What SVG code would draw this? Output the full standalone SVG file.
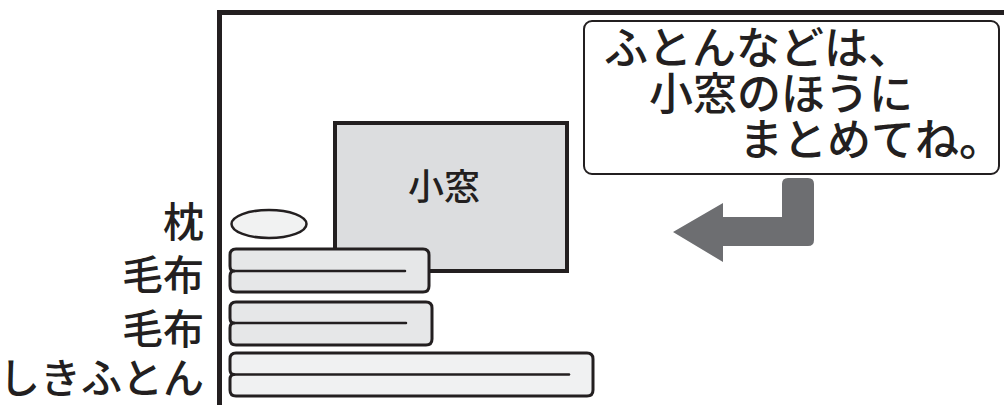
<svg xmlns="http://www.w3.org/2000/svg" width="1004" height="405" viewBox="0 0 1004 405">
<style>
.t{font-family:"Noto Sans CJK JP","Noto Sans",sans-serif;fill:#231f20;font-weight:500}
.lbl{font-size:41px;text-anchor:end}
.say{font-size:44px}
.bl{stroke:#231f20;stroke-width:3;stroke-linejoin:round}
.ln{stroke:#231f20;stroke-width:2.5;fill:none;stroke-linecap:round}
</style>
<rect width="1004" height="405" fill="#ffffff"/>
<g id="frame">
<path d="M219.5 405 V12.5 H1004" fill="none" stroke="#231f20" stroke-width="5" stroke-linejoin="miter"/>
</g>
<g id="window">
<rect x="335" y="123" width="232" height="148" fill="#dcdddf" stroke="#231f20" stroke-width="4"/>
<text class="t" x="444" y="200" font-size="36" text-anchor="middle">小窓</text>
</g>
<g id="pillow">
<ellipse cx="269" cy="224" rx="37.5" ry="14" fill="#f1f2f2" stroke="#231f20" stroke-width="2.5"/>
</g>
<g id="blanket1">
<path class="bl" fill="#e6e7e8" d="M236 249 H423 Q429 249 429 255 V286 Q429 292 423 292 H236 Q230 292 230 286 V276 Q230 271 234 271 Q230 271 230 266 V255 Q230 249 236 249 Z"/>
<path class="ln" d="M234 271 H405"/>
</g>
<g id="blanket2">
<path class="bl" fill="#e6e7e8" d="M236 302 H426 Q432 302 432 308 V339 Q432 345 426 345 H236 Q230 345 230 339 V328 Q230 323 234 323 Q230 323 230 318 V308 Q230 302 236 302 Z"/>
<path class="ln" d="M234 323 H406"/>
</g>
<g id="shikifuton">
<path class="bl" fill="#f0f1f2" d="M236 353 H587 Q593 353 593 359 V390 Q593 396 587 396 H236 Q230 396 230 390 V379.5 Q230 374.5 234 374.5 Q230 374.5 230 369.5 V359 Q230 353 236 353 Z"/>
<path class="ln" d="M234 374.5 H569"/>
</g>
<g id="labels">
<text class="t lbl" x="204" y="237">枕</text>
<text class="t lbl" x="204" y="290">毛布</text>
<text class="t lbl" x="204" y="344">毛布</text>
<text class="t lbl" x="204" y="393">しきふとん</text>
</g>
<g id="speech">
<rect x="584" y="21" width="415" height="153" rx="8" fill="#ffffff" stroke="#231f20" stroke-width="2"/>
<text class="t say" x="604" y="64">ふとんなどは、</text>
<text class="t say" x="649" y="110">小窓のほうに</text>
<text class="t say" x="739" y="156">まとめてね。</text>
</g>
<g id="connectors">
<path d="M788 178 H808 Q814 178 814 184 V240 Q814 246 808 246 H723 V262 L673 232 L723 203 V217 H782 V184 Q782 178 788 178 Z" fill="#6d6e71"/>
</g>
</svg>
